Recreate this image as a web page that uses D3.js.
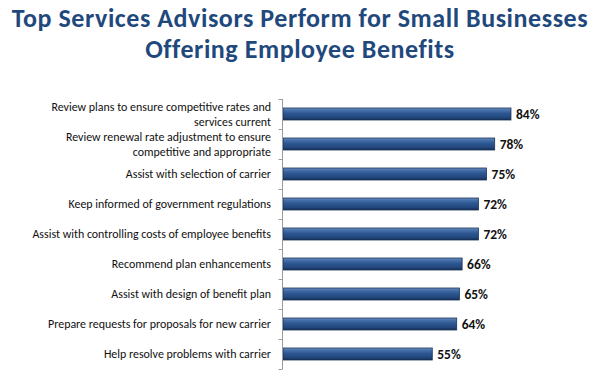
<!DOCTYPE html>
<html>
<head>
<meta charset="utf-8">
<script src="https://cdn.jsdelivr.net/npm/d3@7"></script>
<style>
  html, body { margin: 0; padding: 0; background: #fff; }
  svg { display: block; }
</style>
</head>
<body>
<svg id="chart" width="600" height="385"></svg>
<script>
// ---- data ----
const titleLines = ["Top Services Advisors Perform for Small Businesses", "Offering Employee Benefits"];
const categories = [
  ["Review plans to ensure competitive rates and", "services current"],
  ["Review renewal rate adjustment to ensure", "competitive and appropriate"],
  ["Assist with selection of carrier"],
  ["Keep informed of government regulations"],
  ["Assist with controlling costs of employee benefits"],
  ["Recommend plan enhancements"],
  ["Assist with design of benefit plan"],
  ["Prepare requests for proposals for new carrier"],
  ["Help resolve problems with carrier"]
];
const values = [84, 78, 75, 72, 72, 66, 65, 64, 55];

// ---- layout ----
const axisX = 282.5;
const plotTop = 99, plotBottom = 369;
const font = "Carlito, Lato, 'Liberation Sans', sans-serif";

const svg = d3.select("#chart");
const defs = svg.append("defs");
const grad = defs.append("linearGradient").attr("id", "barGrad")
  .attr("x1", 0).attr("y1", 0).attr("x2", 0).attr("y2", 1);
[[0, "#6d8fc0"], [0.18, "#4670aa"], [0.45, "#2d5792"], [0.8, "#22467b"], [1, "#142c52"]]
  .forEach(([o, c]) => grad.append("stop").attr("offset", o).attr("stop-color", c));

const ids = categories.map((c, i) => i);
const y = d3.scaleBand().domain(ids).range([plotTop, plotBottom]).paddingInner(0.6).paddingOuter(0.3);
const x = d3.scaleLinear().domain([0, 100]).range([axisX + 0.5, axisX + 0.5 + 271.4]);

// title
const titleFs = 26;
const title = svg.append("g");
titleLines.forEach((t, i) => {
  title.append("text")
    .attr("x", 300).attr("y", 27 + i * 31)
    .attr("text-anchor", "middle")
    .attr("font-family", font).attr("font-weight", "bold")
    .attr("font-size", titleFs).attr("fill", "#1f497d")
    .text(t);
});
(function () {
  const t0 = title.select("text").node();
  const w = t0.getComputedTextLength();
  const target = 576;
  const n = titleLines[0].length;
  const ls = Math.max(0, (target - w) / (n - 1));
  title.selectAll("text").attr("letter-spacing", ls.toFixed(2) + "px");
})();

// bars
svg.append("g").selectAll("rect").data(values).join("rect")
  .attr("x", x(0))
  .attr("y", (d, i) => y(i))
  .attr("width", d => x(d) - x(0))
  .attr("height", y.bandwidth())
  .attr("fill", "url(#barGrad)")
  .attr("stroke", "#1a3358").attr("stroke-width", 0.8);

// axis line and ticks
const ax = svg.append("g");
ax.append("line").attr("x1", axisX).attr("x2", axisX).attr("y1", plotTop).attr("y2", plotBottom)
  .attr("stroke", "#9a9a9a").attr("stroke-width", 1);
const step = y.step();
d3.range(categories.length + 1).forEach(i => {
  const yy = Math.round(plotTop + i * step) + 0.5;
  ax.append("line").attr("x1", axisX - 4).attr("x2", axisX).attr("y1", yy).attr("y2", yy)
    .attr("stroke", "#9a9a9a").attr("stroke-width", 1);
});

// category labels
const labels = svg.append("g");
categories.forEach((lines, i) => {
  const cy = y(i) + y.bandwidth() / 2;
  const n = lines.length;
  lines.forEach((ln, j) => {
    labels.append("text")
      .attr("x", 271).attr("y", cy + (j - (n - 1) / 2) * 15)
      .attr("dy", "0.35em")
      .attr("text-anchor", "end")
      .attr("font-family", font).attr("font-size", 12)
      .attr("fill", "#111")
      .text(ln);
  });
});
(function () {
  const longest = labels.selectAll("text").filter(function () {
    return this.textContent === "Assist with controlling costs of employee benefits";
  }).node();
  const w = longest.getComputedTextLength();
  const fs = 12 * 239 / w;
  labels.selectAll("text").attr("font-size", fs);
})();

// value labels
svg.append("g").selectAll("text").data(values).join("text")
  .attr("x", d => x(d) + 5)
  .attr("y", (d, i) => y(i) + y.bandwidth() / 2)
  .attr("dy", "0.36em")
  .attr("font-family", font).attr("font-weight", "bold").attr("font-size", 13.5)
  .attr("fill", "#111")
  .text(d => d + "%");
</script>
</body>
</html>
